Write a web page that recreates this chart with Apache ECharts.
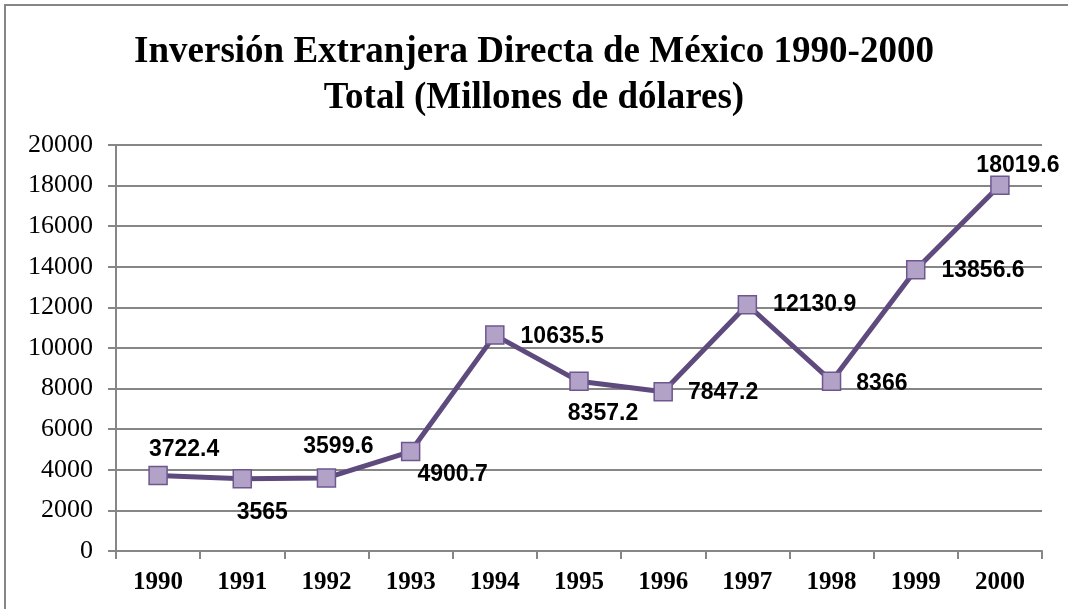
<!DOCTYPE html>
<html>
<head>
<meta charset="utf-8">
<title>Inversión Extranjera Directa de México 1990-2000</title>
<script src="https://cdn.jsdelivr.net/npm/echarts@6/dist/echarts.min.js"></script>
<style>
  html, body { margin: 0; padding: 0; background: #fff; }
  #chart { width: 1068px; height: 609px; }
</style>
</head>
<body>
<div id="chart"></div>
<script>
const years = ["1990", "1991", "1992", "1993", "1994", "1995", "1996", "1997", "1998", "1999", "2000"];
const ied = [3722.4, 3565, 3599.6, 4900.7, 10635.5, 8357.2, 7847.2, 12130.9, 8366, 13856.6, 18019.6];
const yTicks = [0, 2000, 4000, 6000, 8000, 10000, 12000, 14000, 16000, 18000, 20000];

// where each value label sits relative to its marker
const labelPlace = [
  ["top", 26, 0],
  ["bottom", 20, 8],
  ["top", 12, -5],
  ["bottom", 42, -3],
  ["right", 11, 2],
  ["bottom", 24, 6],
  ["right", 10, 1],
  ["right", 11, 0],
  ["right", 10, 2],
  ["right", 11, 1],
  ["top", 18, 7],
];

const chart = echarts.init(document.getElementById("chart"));

const axisGray = "#868686";

chart.setOption({
  animation: false,
  backgroundColor: "#fff",
  title: {
    text: "Inversión Extranjera Directa de México 1990-2000\nTotal (Millones de dólares)",
    left: "center",
    top: 24,
    textStyle: {
      fontFamily: "Liberation Serif",
      fontWeight: "bold",
      fontSize: 37,
      lineHeight: 46,
      color: "#000",
    },
  },
  graphic: [
    {
      type: "rect",
      shape: { x: 5, y: 5, width: 1080, height: 620 },
      style: { fill: "none", stroke: axisGray, lineWidth: 2 },
      silent: true,
    },
  ],
  grid: { left: 116, right: 26, top: 145, bottom: 58 },
  xAxis: {
    type: "category",
    data: years,
    boundaryGap: true,
    axisLine: { lineStyle: { color: axisGray, width: 2 } },
    axisTick: { show: true, length: 8, lineStyle: { color: axisGray, width: 2 } },
    axisLabel: {
      margin: 19,
      color: "#000",
      fontFamily: "Liberation Serif",
      fontWeight: "bold",
      fontSize: 25,
    },
  },
  yAxis: {
    type: "value",
    min: yTicks[0],
    max: yTicks[yTicks.length - 1],
    interval: 2000,
    axisLine: { show: true, lineStyle: { color: axisGray, width: 2 } },
    axisTick: { show: true, length: 8, lineStyle: { color: axisGray, width: 2 } },
    splitLine: { lineStyle: { color: axisGray, width: 2 } },
    axisLabel: {
      margin: 23,
      color: "#000",
      fontFamily: "Liberation Serif",
      fontSize: 26,
      formatter: (v) => String(v),
    },
  },
  series: [
    {
      name: "IED",
      type: "line",
      data: ied.map((v, i) => ({
        value: v,
        label: {
          position: labelPlace[i][0],
          offset: [labelPlace[i][1], labelPlace[i][2]],
        },
      })),
      symbol: "rect",
      symbolSize: 18,
      lineStyle: { color: "#5F4A7E", width: 5 },
      itemStyle: { color: "#B3A2C7", borderColor: "#6E5790", borderWidth: 1.5 },
      label: {
        show: true,
        distance: 5,
        color: "#000",
        fontFamily: "Liberation Sans",
        fontWeight: "bold",
        fontSize: 23,
      },
    },
  ],
});
</script>
</body>
</html>
